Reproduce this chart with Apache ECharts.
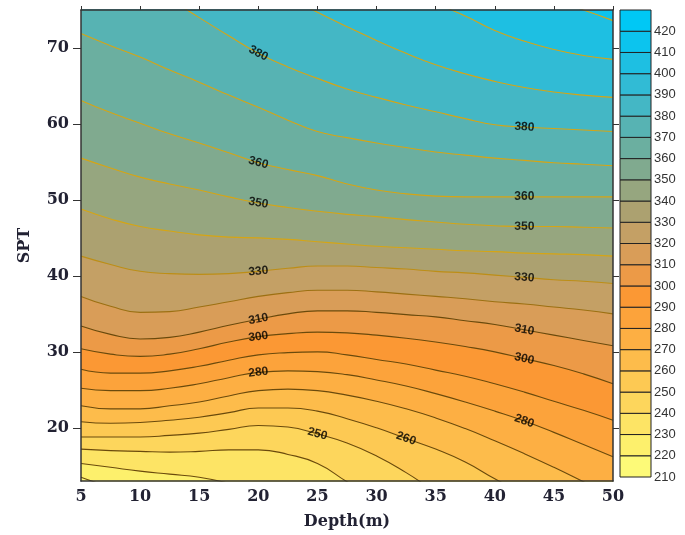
<!DOCTYPE html>
<html><head><meta charset="utf-8">
<script src="https://cdn.jsdelivr.net/npm/echarts@6/dist/echarts.min.js"></script>
<style>html,body{margin:0;padding:0;background:#fff}#c{width:685px;height:535px}</style>
</head><body><div id="c"></div>
<script>
// ---- data ----
const depthX = [5, 7.5, 10, 12.5, 15, 17.5, 20, 22.5, 25, 27.5, 30, 32.5, 35, 37.5, 40, 42.5, 45, 47.5, 50];
const sptTicks = [20, 30, 40, 50, 60, 70];
const colorbarTicks = [210,220,230,240,250,260,270,280,290,300,310,320,330,340,350,360,370,380,390,400,410,420,430];
const contourLevels = [410,400,390,380,370,360,350,340,330,320,310,300,290,280,270,260,250,240,230,220];
// SPT position of each contour level along depthX (values beyond 13..75 run off the plot)
const spt410 = [100, 99, 97, 95, 93, 91, 89, 87.5, 86, 84.5, 83, 81.6, 80.3, 79.1, 78, 77, 76.2, 75.0, 73.6];
const spt400 = [95, 93.2, 91.4, 89.6, 87.8, 86, 84.2, 82.4, 80.5, 79.2, 78.0, 76.9, 75.8, 74.2, 72.3, 70.9, 69.8, 69.0, 68.5];
const spt390 = [88, 86.5, 85, 83.5, 82, 80.3, 78.5, 76.6, 74.7, 72.8, 71.0, 69.3, 67.8, 66.6, 65.6, 64.8, 64.2, 63.8, 63.5];
const spt380 = [82, 80.3, 78.5, 76.4, 74.0, 71.6, 69.3, 67.5, 66.0, 64.6, 63.5, 62.5, 61.6, 60.7, 59.9, 59.6, 59.4, 59.2, 59.0];
const spt370 = [71.9, 70.3, 68.8, 67.1, 65.5, 63.8, 62.2, 60.5, 59.0, 58.2, 57.5, 56.9, 56.3, 55.9, 55.5, 55.2, 54.9, 54.7, 54.5];
const spt360 = [63.1, 61.5, 60.1, 58.7, 57.5, 56.2, 54.9, 54.0, 53.2, 52.1, 51.3, 50.8, 50.5, 50.4, 50.4, 50.4, 50.4, 50.4, 50.4];
const spt350 = [55.5, 54.2, 53.0, 52.1, 51.3, 50.4, 49.6, 49.0, 48.5, 48.1, 47.8, 47.4, 47.1, 46.8, 46.6, 46.5, 46.5, 46.4, 46.3];
const spt340 = [48.8, 47.5, 46.5, 45.9, 45.4, 45.1, 45.0, 44.8, 44.5, 44.2, 43.9, 43.7, 43.5, 43.3, 43.2, 43.0, 42.9, 42.8, 42.6];
const spt330 = [42.6, 41.5, 40.6, 40.3, 40.2, 40.3, 40.6, 41.0, 41.3, 41.3, 41.1, 40.9, 40.6, 40.4, 40.1, 39.8, 39.5, 39.3, 39.0];
const spt320 = [37.3, 36.0, 35.2, 35.3, 35.9, 36.6, 37.3, 37.8, 38.1, 38.1, 37.9, 37.6, 37.3, 37.0, 36.6, 36.3, 35.9, 35.5, 35.0];
const spt310 = [33.4, 32.3, 31.7, 31.9, 32.6, 33.5, 34.3, 35.0, 35.4, 35.4, 35.2, 34.9, 34.6, 34.1, 33.6, 32.9, 32.2, 31.5, 30.8];
const spt300 = [30.4, 29.7, 29.4, 29.7, 30.4, 31.3, 32.0, 32.4, 32.6, 32.5, 32.2, 31.8, 31.3, 30.7, 30.0, 29.1, 28.2, 27.1, 25.8];
const spt290 = [27.7, 27.2, 27.2, 27.5, 28.1, 28.9, 29.6, 29.9, 30.0, 29.6, 29.0, 28.4, 27.6, 26.8, 25.8, 24.7, 23.5, 22.3, 21.0];
const spt280 = [25.2, 24.9, 24.9, 25.2, 25.8, 26.6, 27.3, 27.5, 27.4, 27.0, 26.3, 25.5, 24.5, 23.4, 22.2, 20.9, 19.4, 17.8, 16.2];
const spt270 = [22.9, 22.5, 22.5, 22.9, 23.4, 24.2, 24.9, 25.1, 24.9, 24.3, 23.5, 22.5, 21.3, 19.9, 18.3, 16.6, 14.8, 12.9, 11.0];
const spt260 = [20.8, 20.6, 20.7, 21.0, 21.4, 22.0, 22.6, 22.6, 22.2, 21.2, 20.0, 18.6, 17.2, 15.5, 13.3, 11.3, 9.3, 7.3, 5.3];
const spt250 = [18.8, 18.8, 18.8, 19.0, 19.3, 19.8, 20.3, 20.1, 19.2, 18.0, 16.3, 14.1, 11.6, 9.4, 7.3, 5.2, 3.1, 1.0, -1.1];
const spt240 = [17.2, 17.0, 16.9, 16.8, 16.9, 17.1, 17.1, 16.5, 15.3, 12.9, 10.6, 8.5, 6.5, 4.5, 2.5, 0.5, -1.5, -3.5, -5.5];
const spt230 = [15.3, 14.8, 14.3, 13.9, 13.5, 12.7, 11.6, 10.2, 8.7, 7.2, 5.7, 4.2, 2.7, 1.2, -0.3, -1.8, -3.3, -4.8, -6.3];
const spt220 = [13.5, 12.2, 11.2, 10.2, 9.2, 8.0, 6.8, 5.4, 4.0, 2.6, 1.2, -0.2, -1.6, -3.0, -4.4, -5.8, -7.2, -8.6, -10.0];
// contour labels: [level, index into depthX]
const labelSpots = [[380,6],[360,6],[350,6],[330,6],[310,6],[300,6],[280,6],
                    [380,15],[360,15],[350,15],[330,15],[310,15],[300,15],[280,15],[250,8],[260,11]];

// ---- styling ----
const contourByLevel = {410:spt410,400:spt400,390:spt390,380:spt380,370:spt370,360:spt360,350:spt350,340:spt340,
  330:spt330,320:spt320,310:spt310,300:spt300,290:spt290,280:spt280,270:spt270,260:spt260,250:spt250,240:spt240,230:spt230,220:spt220};
const bandColor = {210:'#fdfa78',220:'#fdf06c',230:'#fde465',240:'#fdd65c',250:'#fdc953',260:'#fdbc4b',270:'#fdaf43',
  280:'#fca33b',290:'#fb9834',300:'#ec9a47',310:'#d99d58',320:'#c4a065',330:'#aca170',340:'#96a67f',350:'#80aa8f',
  360:'#6bafa0',370:'#57b3b3',380:'#44b7c5',390:'#31bbd5',400:'#1ebfe2',410:'#0cc4ee',420:'#00c8f5'};
function lineColor(L){ return L>=340 ? '#d6a514' : L===330 ? '#bd8e16' : L===320 ? '#9c7012' : '#6a4a0c'; }
const serif = 'DejaVu Serif';
const labelColor = '#222233';
const axisLineStyle = {color:'#333', width:1.5};

const chart = echarts.init(document.getElementById('c'), null, {renderer:'canvas'});

const contourSeries = contourLevels.map(L => ({
  type:'line', name:'c'+L, xAxisIndex:0, yAxisIndex:0,
  data: depthX.map((x,i)=>[x, contourByLevel[L][i]]),
  smooth:0.5, symbol:'none', showSymbol:false, clip:true, silent:true,
  lineStyle:{color:lineColor(L), width:1.1},
  areaStyle:{color:bandColor[L-10], opacity:1, origin:'start'},
  z:2, animation:false
}));

const bands = [];
for (let i=0;i<colorbarTicks.length-1;i++){
  bands.push([{xAxis:0, yAxis:colorbarTicks[i], itemStyle:{color:bandColor[colorbarTicks[i]], borderColor:'#222', borderWidth:1}},
              {xAxis:1, yAxis:colorbarTicks[i+1]}]);
}
const colorbarSeries = {
  type:'line', xAxisIndex:2, yAxisIndex:2, data:[[0,210]], symbol:'none', lineStyle:{width:0}, silent:true,
  markArea:{silent:true, data:bands, label:{show:false}}
};

function labelSeries(rotations){
  return {
    id:'labels', type:'scatter', xAxisIndex:0, yAxisIndex:0, symbolSize:0, silent:true, z:6,
    data: labelSpots.map((s,k)=>({
      name:String(s[0]),
      value:[depthX[s[1]], contourByLevel[s[0]][s[1]]],
      label:{rotate: rotations ? rotations[k] : 0}
    })),
    label:{show:true, position:'inside', formatter:p=>p.name, color:'#000', fontSize:12, fontWeight:'bold',
      fontFamily:'Liberation Sans'}
  };
}

const option = {
  animation:false,
  backgroundColor:'#ffffff',
  grid:[
    {left:81, top:10, width:532, height:472, show:true, backgroundColor:bandColor[410], borderWidth:0},
    {left:620, top:10, width:31, height:467}
  ],
  xAxis:[
    {gridIndex:0, type:'value', min:5, max:50, interval:5, position:'bottom', z:10,
     axisLine:{show:true, onZero:false, lineStyle:axisLineStyle}, axisTick:{show:false},
     axisLabel:{margin:8, fontFamily:serif, fontWeight:'bold', fontSize:16, color:labelColor},
     splitLine:{show:false},
     name:'Depth(m)', nameLocation:'middle', nameGap:33,
     nameTextStyle:{fontFamily:serif, fontWeight:'bold', fontSize:16, color:labelColor}},
    {gridIndex:0, type:'value', min:5, max:50, interval:5, position:'top', z:10,
     axisLine:{show:true, onZero:false, lineStyle:axisLineStyle},
     axisTick:{show:true, length:4, lineStyle:{color:'#333'}}, axisLabel:{show:false}, splitLine:{show:false}},
    {gridIndex:1, type:'value', min:0, max:1, show:false}
  ],
  yAxis:[
    {gridIndex:0, type:'value', min:13, max:75, position:'left', z:10,
     axisLine:{show:true, onZero:false, lineStyle:axisLineStyle},
     axisTick:{show:true, length:8, customValues:sptTicks, lineStyle:{color:'#333'}},
     axisLabel:{customValues:sptTicks, margin:12, fontFamily:serif, fontWeight:'bold', fontSize:16, color:labelColor},
     splitLine:{show:false},
     name:'SPT', nameLocation:'middle', nameGap:48, nameRotate:90,
     nameTextStyle:{fontFamily:serif, fontWeight:'bold', fontSize:16, color:labelColor}},
    {gridIndex:0, type:'value', min:13, max:75, position:'right', z:10,
     axisLine:{show:true, onZero:false, lineStyle:axisLineStyle},
     axisTick:{show:true, length:6, customValues:sptTicks, lineStyle:{color:'#333'}},
     axisLabel:{show:false}, splitLine:{show:false}},
    {gridIndex:1, type:'value', min:210, max:430, interval:10, position:'right',
     axisLine:{show:false}, axisTick:{show:false}, splitLine:{show:false},
     axisLabel:{margin:3, showMaxLabel:false, showMinLabel:true, fontFamily:'Liberation Sans', fontSize:13, color:'#333'}}
  ],
  series: contourSeries.concat([colorbarSeries, labelSeries(null)])
};
chart.setOption(option);

// rotate each contour label along its line
const rotations = labelSpots.map(s=>{
  const arr = contourByLevel[s[0]], i = s[1];
  const a = chart.convertToPixel({gridIndex:0}, [depthX[i-1], arr[i-1]]);
  const b = chart.convertToPixel({gridIndex:0}, [depthX[i+1], arr[i+1]]);
  return -Math.atan2(b[1]-a[1], b[0]-a[0]) * 180 / Math.PI;
});
chart.setOption({series: contourSeries.concat([colorbarSeries, labelSeries(rotations)])});
</script>
</body></html>
